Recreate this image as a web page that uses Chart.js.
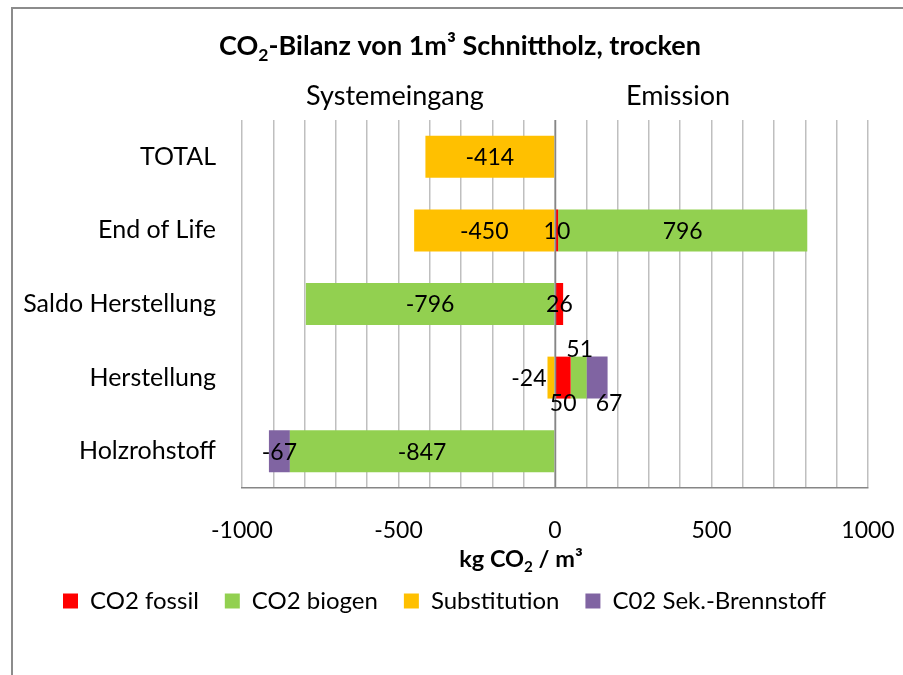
<!DOCTYPE html>
<html>
<head>
<meta charset="utf-8">
<title>CO2-Bilanz Schnittholz</title>
<script src="https://cdn.jsdelivr.net/npm/chart.js@4.4.1/dist/chart.umd.min.js"></script>
<style>
  html, body { margin: 0; padding: 0; background: #fff; }
  body { width: 903px; height: 675px; position: relative; overflow: hidden; }
  #frame { position: absolute; left: 11px; top: 7px; width: 1000px; height: 1000px; border: 2px solid #8c8c8c; box-sizing: border-box; }
  #wrap { position: absolute; left: 0; top: 0; width: 903px; height: 675px; }
</style>
</head>
<body>
<div id="frame"></div>
<div id="wrap"><canvas id="myChart" width="903" height="675"></canvas></div>
<script>
// data
const categories = ['TOTAL', 'End of Life', 'Saldo Herstellung', 'Herstellung', 'Holzrohstoff'];
const co2Fossil = [null, 10, 26, 50, null];
const co2Biogen = [null, 796, -796, 51, -847];
const substitution = [-414, -450, null, -24, null];
const co2Sek = [null, null, null, 67, -67];
const xTicks = [-1000, -500, 0, 500, 1000];

const FONT = 'Lato';
Chart.defaults.font.family = FONT;
Chart.defaults.color = '#000';

// labels that Excel moved off the small Herstellung segments (category-dataset: dx, dy)
const labelNudge = { '3-0': [0, 25], '3-1': [1, -29], '3-2': [-22, 0], '3-3': [12, 25] };

function drawRich(ctx, parts, x, y, size, bold) {
    const w = parts.reduce((s, p) => {
        ctx.font = (bold ? 'bold ' : '') + (p.sub ? size * 0.65 : size) + 'px ' + FONT;
        return s + ctx.measureText(p.t).width;
    }, 0);
    let cx = x - w / 2;
    ctx.textAlign = 'left';
    ctx.textBaseline = 'alphabetic';
    parts.forEach(p => {
        ctx.font = (bold ? 'bold ' : '') + (p.sub ? size * 0.65 : size) + 'px ' + FONT;
        ctx.fillText(p.t, cx, y + (p.sub ? size * 0.22 : 0));
        cx += ctx.measureText(p.t).width;
    });
}

const extraText = {
    id: 'extraText',
    afterLayout(chart) {
        // legend row starts further right than the layout padding
        chart.legend.left = 37;
    },
    afterDraw(chart) {
        const ctx = chart.ctx;
        ctx.save();
        ctx.fillStyle = '#000';
        drawRich(ctx, [{t: 'CO'}, {t: '2', sub: true}, {t: '-Bilanz von 1m³ Schnittholz, trocken'}], 460, 55, 27, true);
        drawRich(ctx, [{t: 'Systemeingang'}], 395, 105, 27, false);
        drawRich(ctx, [{t: 'Emission'}], 678, 105, 27, false);
        drawRich(ctx, [{t: 'kg CO'}, {t: '2', sub: true}, {t: ' / m³'}], 521, 567, 23.5, true);
        ctx.restore();
    }
};

const barLabels = {
    id: 'barLabels',
    afterDatasetsDraw(chart) {
        const ctx = chart.ctx;
        const area = chart.chartArea;
        const x0 = Math.round(chart.scales.x.getPixelForValue(0)) + 0.5;
        ctx.save();
        // vertical category axis at 0, on top of the bars
        ctx.strokeStyle = '#868686';
        ctx.lineWidth = 1.5;
        ctx.beginPath();
        ctx.moveTo(x0, area.top);
        ctx.lineTo(x0, area.bottom);
        ctx.stroke();

        ctx.font = '23px ' + FONT;
        ctx.fillStyle = '#000';
        ctx.textAlign = 'center';
        ctx.textBaseline = 'middle';
        chart.data.datasets.forEach((ds, di) => {
            chart.getDatasetMeta(di).data.forEach((bar, i) => {
                const v = ds.data[i];
                if (v === null) return;
                const n = labelNudge[i + '-' + di] || [0, 0];
                ctx.fillText(String(v), (bar.x + bar.base) / 2 + n[0], bar.y + 1 + n[1]);
            });
        });
        ctx.restore();
    }
};

var ctx = document.getElementById('myChart').getContext('2d');
var chart = new Chart(ctx, {
    type: 'bar',
    data: {
        labels: categories,
        datasets: [
            { label: 'CO2 fossil', backgroundColor: '#FF0000', data: co2Fossil },
            { label: 'CO2 biogen', backgroundColor: '#92D050', data: co2Biogen },
            { label: 'Substitution', backgroundColor: '#FFC000', data: substitution },
            { label: 'C02 Sek.-Brennstoff', backgroundColor: '#8064A2', data: co2Sek }
        ]
    },
    options: {
        indexAxis: 'y',
        responsive: false,
        animation: false,
        datasets: { bar: { barPercentage: 0.57, categoryPercentage: 1 } },
        layout: { padding: { left: 12, right: 35, top: 120, bottom: 52 } },
        plugins: {
            title: { display: false },
            tooltip: { enabled: false },
            legend: {
                position: 'bottom',
                align: 'start',
                labels: { boxWidth: 15, boxHeight: 15, padding: 26, color: '#000', font: { size: 24 } }
            }
        },
        scales: {
            x: {
                stacked: true,
                min: -1000,
                max: 1000,
                ticks: {
                    stepSize: 100, autoSkip: false, maxRotation: 0, padding: 29,
                    font: { size: 23 }, color: '#000',
                    callback: v => xTicks.includes(v) ? v : ''
                },
                grid: { color: '#bfbfbf', lineWidth: 1.5, drawTicks: false },
                border: { color: '#868686', width: 1.5 },
                afterFit: s => { s.height = 75; s.paddingLeft = 0; s.paddingRight = 0; }
            },
            y: {
                stacked: true,
                ticks: { padding: 26, font: { size: 25 }, color: '#000', autoSkip: false },
                grid: { display: false, drawTicks: false },
                border: { display: false },
                afterFit: s => { s.width = 230; }
            }
        }
    },
    plugins: [barLabels, extraText]
});
</script>
</body>
</html>
